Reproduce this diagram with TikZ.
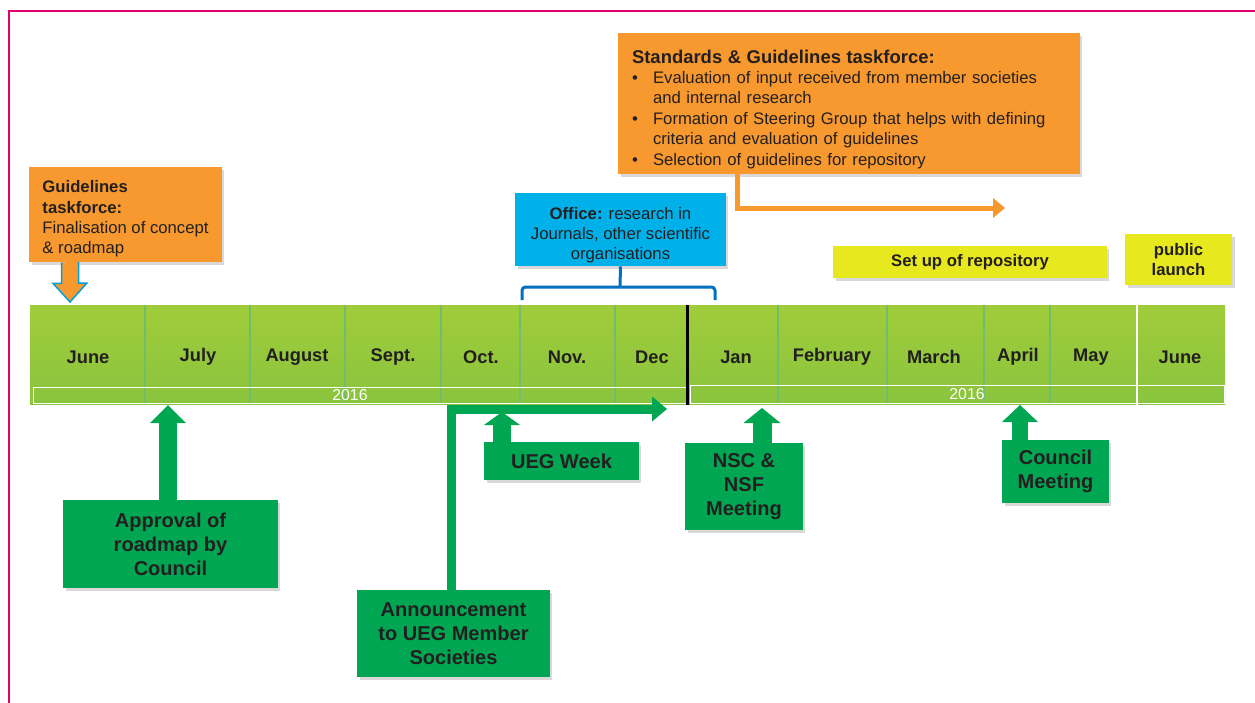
\documentclass[tikz,border=0pt]{standalone}
\usepackage{fontspec}
\setmainfont{Liberation Sans}
\usetikzlibrary{arrows.meta,calc,shadows}
\definecolor{taskorange}{RGB}{247,153,46}
\definecolor{officeblue}{RGB}{0,176,232}
\definecolor{braceblue}{RGB}{0,112,192}
\definecolor{dropblue}{RGB}{0,160,220}
\definecolor{boxgreen}{RGB}{0,166,81}
\definecolor{repoyellow}{RGB}{232,232,30}
\definecolor{bartop}{RGB}{160,204,58}
\definecolor{barbottom}{RGB}{138,196,62}
\definecolor{dividergreen}{RGB}{110,190,110}
\definecolor{txt}{RGB}{35,31,32}
\definecolor{framepink}{RGB}{225,0,115}
\begin{document}
\begin{tikzpicture}[x=0.02cm,y=-0.02cm,
    shade box/.style={drop shadow={shadow xshift=0.05cm,shadow yshift=-0.06cm,opacity=0.3}},
    taskbox/.style={shade box,fill=taskorange,text=txt,inner ysep=0pt,align=left,font=\fontsize{9.5}{11.6}\selectfont},
    officebox/.style={shade box,fill=officeblue,text=txt,inner sep=0pt,align=center,font=\fontsize{9.5}{11.3}\selectfont},
    eventbox/.style={shade box,fill=boxgreen,text=txt,inner sep=0pt,align=center,font=\bfseries\fontsize{11.4}{13.6}\selectfont},
    repobox/.style={shade box,fill=repoyellow,text=txt,inner sep=0pt,align=center,font=\bfseries\fontsize{9.5}{11.3}\selectfont},
    month/.style={text=txt,font=\bfseries\fontsize{10.4}{12}\selectfont},
    year/.style={text=white,font=\fontsize{9}{10}\selectfont},
    divider/.style={draw=dividergreen,line width=0.03cm},
    uparrow/.style n args={3}{draw=boxgreen,line width=#1,-{Triangle[width=#2,length=#3,line width=0pt]}},
  ]
  \useasboundingbox (0,0) rectangle (1255,703);

  % frame
  \draw[framepink,line width=0.04cm] (9,720) -- (9,11) -- (1270,11);

  % time bar
  \shade[top color=bartop,bottom color=barbottom] (30,305) rectangle (1225,404);
  \foreach \x in {145,250,345,441,520,615,778,887,984,1050}
    \draw[divider] (\x,305) -- (\x,404);
  \draw[white,line width=0.04cm] (1137,305) -- (1137,405);
  \draw[white,line width=0.02cm] (33,387) rectangle (686,403);
  \draw[white,line width=0.02cm] (690,385) rectangle (1224,403);
  \draw[black,line width=0.06cm] (687,305) -- (687,405);
  \node[year] (y1) at (350,395) {2016};
  \node[year] (y2) at (967,394) {2016};

  \foreach \c/\m/\n in {88/June/jun,198/July/jul,297/August/aug,393/Sept./sep,481/Oct./oct,567/Nov./nov,652/Dec/dec,
                        736/Jan/jan,832/February/feb,934/March/mar,1018/April/apr,1091/May/may,1180/June/jun2}
    \node[month] (\n) at (\c,357) {\m};

  % taskforces and office
  \node[taskbox,inner xsep=0pt,minimum width=3.86cm,minimum height=1.9cm] (gtf) at (125.5,214.5)
    {\rule{0pt}{12pt}\textbf{Guidelines}\\\textbf{taskforce:}\\Finalisation of concept\\\& roadmap};
  \node[taskbox,text width=8.68cm,inner xsep=0.28cm,minimum height=2.82cm] (sgtf) at (849,103.5)
    {\rule{0pt}{14pt}{\bfseries\fontsize{10.5}{12}\selectfont Standards \& Guidelines taskforce:}\\
     \makebox[0.42cm][l]{\textbullet}Evaluation of input received from member societies\\
     \hspace*{0.42cm}and internal research\\
     \makebox[0.42cm][l]{\textbullet}Formation of Steering Group that helps with defining\\
     \hspace*{0.42cm}criteria and evaluation of guidelines\\
     \makebox[0.42cm][l]{\textbullet}Selection of guidelines for repository};
  \node[officebox,minimum width=4.22cm,minimum height=1.46cm] (office) at (620.5,229.5)
    {\rule{0pt}{13pt}\textbf{Office:} research in\\Journals, other scientific\\organisations};

  % repository
  \node[repobox,minimum width=5.48cm,minimum height=0.64cm] (setup) at (970,262) {Set up of repository};
  \node[repobox,minimum width=2.14cm,minimum height=1.02cm] (launch) at (1178.5,259.5) {public\\launch};

  % events
  \node[eventbox,minimum width=4.3cm,minimum height=1.76cm] (approval) at (170.5,544) {Approval of\\roadmap by\\Council};
  \node[eventbox,minimum width=3.86cm,minimum height=1.74cm] (announce) at (453.5,633.5) {Announcement\\to UEG Member\\Societies};
  \node[eventbox,minimum width=3.1cm,minimum height=0.76cm] (uegweek) at (561.5,461) {UEG Week};
  \node[eventbox,minimum width=2.36cm,minimum height=1.74cm] (nsc) at (744,486.5) {NSC \&\\NSF\\Meeting};
  \node[eventbox,minimum width=2.14cm,minimum height=1.26cm] (council) at (1055.5,471.5) {Council\\Meeting};

  % arrows
  \coordinate (gtip) at (70,302);
  \filldraw[fill=taskorange,draw=dropblue,line width=0.03cm]
    (gtip |- gtf.south) ++(-8.5,0) -- ++(0,21) -- ++(-8.5,0) -- (gtip) -- ++(17,-19) -- ++(-8.5,0) -- ++(0,-21);

  \coordinate (sgbend) at (737,208);
  \coordinate (sgtip) at (1005,208);
  \draw[taskorange,line width=0.1cm,line join=miter,-{Triangle[width=0.4cm,length=0.24cm,line width=0pt]}]
    (sgbend |- sgtf.south) -- (sgbend) -- (sgtip);

  \coordinate (bracel) at (522,300);
  \coordinate (bracer) at (715,300);
  \coordinate (bracetop) at (620,287);
  \draw[braceblue,line width=0.06cm,rounded corners=2pt] (bracel) |- (bracetop) -| (bracer);
  \draw[braceblue,line width=0.06cm] (office.south) -- (bracetop);

  \coordinate (apptip) at (168,405);
  \draw[uparrow={0.38cm}{0.72cm}{0.36cm}] (apptip |- approval.north) -- (apptip);
  \coordinate (uegtip) at (502,412);
  \draw[uparrow={0.36cm}{0.72cm}{0.26cm}] (uegtip |- uegweek.north) -- (uegtip);
  \coordinate (nsctip) at (762,408);
  \draw[uparrow={0.38cm}{0.74cm}{0.3cm}] (nsctip |- nsc.north) -- (nsctip);
  \coordinate (counciltip) at (1020,405);
  \draw[uparrow={0.32cm}{0.72cm}{0.34cm}] (counciltip |- council.north) -- (counciltip);
  \coordinate (annbend) at (451.5,409);
  \coordinate (anntip) at (667,409);
  \draw[uparrow={0.18cm}{0.5cm}{0.3cm},line join=miter] (annbend |- announce.north) -- (annbend) -- (anntip);
\end{tikzpicture}
\end{document}
